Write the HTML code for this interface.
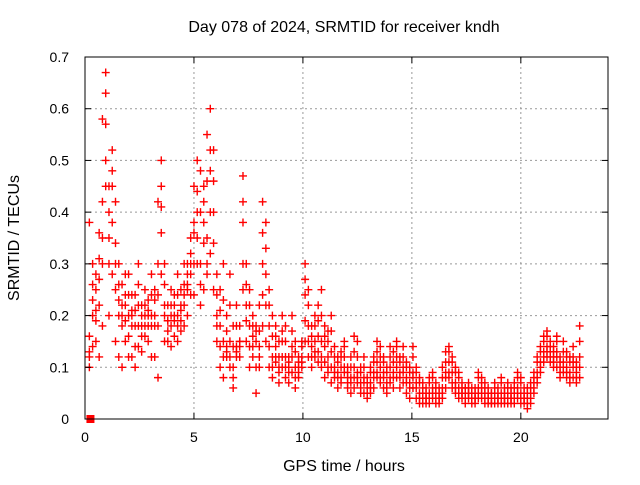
<!DOCTYPE html>
<html><head><meta charset="utf-8"><style>
body{margin:0;background:#fff;}
svg text{font-family:"Liberation Sans",sans-serif;font-size:14px;fill:#000;}
</style></head><body>
<svg id="chart" width="640" height="480" viewBox="0 0 640 480" xmlns="http://www.w3.org/2000/svg">
<rect width="640" height="480" fill="#fff"/>
<text x="344" y="32" text-anchor="middle" style="font-size:16px">Day 078 of 2024, SRMTID for receiver kndh</text>
<text x="344" y="471" text-anchor="middle" style="font-size:16px">GPS time / hours</text>
<text transform="translate(19,238) rotate(-90)" text-anchor="middle" style="font-size:16px">SRMTID / TECUs</text>
<g id="grid"></g>
<g id="marks"></g>
<rect x="85" y="57" width="523" height="362" fill="none" stroke="#000" stroke-width="1"/>
<g id="ticks"></g>
</svg>
<script>
const xTicks=[0,5,10,15,20];
const yTicks=[0,0.1,0.2,0.3,0.4,0.5,0.6,0.7];
const yTickLabels=["0","0.1","0.2","0.3","0.4","0.5","0.6","0.7"];
const times=[0.2,0.35,0.5,0.65,0.8,0.95,1.1,1.25,1.4,1.55,1.7,1.85,2.0,2.15,2.3,2.45,2.6,2.75,2.9,3.05,3.2,3.35,3.5,3.65,3.8,3.95,4.1,4.25,4.4,4.55,4.7,4.85,5.0,5.15,5.3,5.45,5.6,5.75,5.9,6.05,6.2,6.35,6.5,6.65,6.8,6.95,7.1,7.25,7.4,7.55,7.7,7.85,8.0,8.15,8.3,8.45,8.6,8.75,8.9,9.05,9.2,9.35,9.5,9.65,9.8,9.95,10.1,10.25,10.4,10.55,10.7,10.85,11.0,11.15,11.3,11.45,11.6,11.75,11.9,12.05,12.2,12.35,12.5,12.65,12.8,12.95,13.1,13.25,13.4,13.55,13.7,13.85,14.0,14.15,14.3,14.45,14.6,14.75,14.9,15.05,15.2,15.35,15.5,15.65,15.8,15.95,16.1,16.25,16.4,16.55,16.7,16.85,17.0,17.15,17.3,17.45,17.6,17.75,17.9,18.05,18.2,18.35,18.5,18.65,18.8,18.95,19.1,19.25,19.4,19.55,19.7,19.85,20.0,20.15,20.3,20.45,20.6,20.75,20.9,21.05,21.2,21.35,21.5,21.65,21.8,21.95,22.1,22.25,22.4,22.55,22.7];
const valuesA=[.12,.30,.25,.36,.58,.67,.45,.52,.42,.30,.26,.22,.28,.24,.18,.30,.22,.25,.20,.28,.20,.42,.50,.30,.22,.25,.20,.28,.25,.30,.30,.35,.45,.50,.48,.45,.55,.60,.52,.28,.25,.30,.20,.28,.18,.22,.15,.47,.30,.25,.20,.18,.22,.42,.38,.25,.20,.18,.15,.20,.18,.12,.20,.15,.12,.15,.30,.25,.18,.20,.22,.25,.18,.17,.20,.14,.12,.13,.15,.10,.12,.16,.15,.10,.12,.08,.10,.12,.15,.14,.12,.10,.14,.13,.15,.12,.14,.11,.10,.14,.10,.08,.07,.06,.08,.09,.07,.06,.10,.13,.14,.12,.10,.09,.07,.06,.07,.06,.06,.09,.08,.07,.06,.05,.07,.06,.08,.06,.07,.06,.07,.09,.08,.06,.06,.07,.09,.12,.14,.16,.17,.15,.14,.16,.12,.15,.13,.12,.14,.11,.18];
const valuesB=[.10,.20,.15,.22,.30,.63,.35,.45,.25,.20,.18,.15,.20,.12,.24,.14,.20,.16,.23,.18,.25,.18,.45,.22,.15,.18,.24,.20,.17,.22,.25,.32,.38,.40,.30,.42,.35,.48,.40,.20,.18,.15,.12,.15,.10,.14,.12,.38,.22,.18,.16,.15,.12,.30,.28,.18,.12,.14,.10,.15,.12,.10,.14,.10,.09,.12,.24,.18,.14,.15,.16,.15,.14,.12,.13,.10,.09,.10,.12,.08,.08,.10,.09,.07,.08,.06,.07,.09,.11,.10,.09,.07,.10,.09,.12,.09,.10,.08,.07,.09,.07,.05,.05,.04,.05,.06,.05,.04,.06,.09,.11,.09,.07,.06,.05,.05,.05,.04,.04,.06,.06,.05,.04,.04,.05,.04,.05,.04,.05,.04,.05,.06,.05,.04,.04,.05,.07,.09,.11,.13,.14,.13,.12,.13,.10,.11,.10,.09,.11,.09,.12];
const valuesC=[.38,.14,.28,.12,.18,.50,.20,.28,.15,.12,.10,.28,.12,.18,.10,.22,.13,.20,.15,.12,.12,.08,.36,.15,.19,.14,.16,.15,.21,.18,.20,.28,.24,.30,.22,.25,.28,.32,.25,.15,.10,.08,.14,.10,.06,.12,.18,.25,.15,.10,.12,.05,.10,.18,.15,.10,.08,.11,.07,.10,.08,.07,.09,.06,.08,.10,.15,.12,.10,.12,.11,.10,.08,.09,.07,.08,.06,.07,.09,.06,.05,.06,.07,.05,.05,.04,.05,.06,.08,.07,.06,.05,.07,.06,.08,.06,.07,.05,.04,.06,.04,.03,.03,.03,.03,.04,.03,.03,.04,.06,.08,.06,.05,.04,.04,.03,.04,.03,.03,.04,.04,.03,.03,.03,.03,.03,.03,.03,.03,.03,.03,.04,.03,.03,.02,.03,.05,.07,.09,.11,.12,.11,.10,.10,.08,.09,.08,.07,.08,.07,.08];
const valuesD=[.16,.26,.19,.31,.42,.57,.40,.48,.34,.26,.22,.19,.24,.21,.21,.26,.18,.22,.21,.24,.23,.30,.41,.26,.19,.22,.22,.24,.22,.26,.28,.30,.36,.44,.40,.38,.46,.52,.46,.24,.21,.23,.17,.22,.14,.18,.14,.42,.26,.22,.18,.17,.17,.36,.33,.22,.16,.16,.12,.17,.15,.11,.17,.13,.11,.14,.27,.22,.16,.18,.19,.20,.16,.15,.17,.12,.11,.12,.14,.09,.10,.13,.12,.09,.10,.07,.09,.11,.13,.12,.11,.09,.12,.11,.14,.11,.12,.10,.09,.12,.09,.07,.06,.05,.07,.08,.06,.05,.08,.11,.13,.11,.09,.08,.06,.06,.06,.05,.05,.08,.07,.06,.05,.05,.06,.05,.07,.05,.06,.05,.06,.08,.07,.05,.05,.06,.08,.11,.13,.15,.16,.14,.13,.15,.11,.13,.12,.11,.12,.10,.15];
const valuesE=[.13,.23,.21,.27,.35,.45,.30,.38,.30,.23,.20,.24,.16,.20,.14,.18,.16,.18,.18,.20,.18,.24,.28,.20,.17,.20,.19,.18,.19,.24,.26,.24,.30,.35,.26,.34,.30,.40,.34,.18,.14,.12,.13,.12,.08,.13,.15,.30,.19,.14,.14,.10,.14,.24,.22,.14,.10,.12,.09,.12,.10,.09,.12,.08,.10,.11,.19,.15,.12,.13,.13,.12,.11,.10,.10,.09,.08,.08,.10,.07,.07,.08,.08,.06,.07,.05,.06,.08,.09,.08,.08,.06,.08,.08,.10,.08,.09,.07,.06,.08,.06,.04,.04,.04,.04,.05,.04,.04,.05,.08,.09,.07,.06,.05,.05,.04,.05,.04,.04,.05,.05,.04,.04,.03,.04,.04,.04,.04,.04,.04,.04,.05,.04,.04,.03,.04,.06,.08,.10,.12,.13,.12,.11,.12,.09,.10,.09,.08,.10,.08,.10];
const series=[valuesA,valuesB,valuesC,valuesD,valuesE];
const X0=85,X1=608,Y0=419,Y1=57,XMAX=24,YMAX=0.7;
function xs(t){return X0+t/XMAX*(X1-X0);}
function ys(v){return Y0-v/YMAX*(Y0-Y1);}
const NS="http://www.w3.org/2000/svg";
const grid=document.getElementById('grid'),ticks=document.getElementById('ticks'),marks=document.getElementById('marks');
function mk(tag,attrs,parent){const e=document.createElementNS(NS,tag);for(const k in attrs)e.setAttribute(k,attrs[k]);parent.appendChild(e);return e;}
xTicks.forEach(t=>{
  const x=xs(t);
  if(t>0){const g=mk('line',{x1:x,x2:x,y1:Y1,y2:Y0,stroke:'#999','stroke-dasharray':'2,3'},grid);
  
  }
  const tk=mk('line',{x1:x,x2:x,y1:Y0,y2:Y0-6,stroke:'#000'},ticks);
  
  
  const tk2=mk('line',{x1:x,x2:x,y1:Y1,y2:Y1+6,stroke:'#000'},ticks);
  
  
  const l=mk('text',{x:x,y:Y0+23,'text-anchor':'middle'},ticks);l.textContent=String(t);
  
  
});
yTicks.forEach((v,i)=>{
  const y=ys(v);
  if(v>0&&v<YMAX){const g=mk('line',{x1:X0,x2:X1,y1:y,y2:y,stroke:'#999','stroke-dasharray':'2,3'},grid);
  
  }
  const tk=mk('line',{x1:X0,x2:X0+6,y1:y,y2:y,stroke:'#000'},ticks);
  
  
  const tk2=mk('line',{x1:X1,x2:X1-6,y1:y,y2:y,stroke:'#000'},ticks);
  
  
  const l=mk('text',{x:X0-16,y:y+5,'text-anchor':'end'},ticks);l.textContent=yTickLabels[i];
  
  
});
series.forEach(vals=>{
  vals.forEach((v,i)=>{
    const x=xs(times[i]),y=ys(v);
    const p=mk('path',{d:`M${x-4},${y}H${x+4}M${x},${y-4}V${y+4}`,stroke:'#f00','stroke-width':1.4,fill:'none'},marks);
    
    
  });
});
const sq=mk('rect',{x:xs(0.25)-4,y:Y0-4,width:8,height:8,fill:'#f00'},marks);


</script>
</body></html>
